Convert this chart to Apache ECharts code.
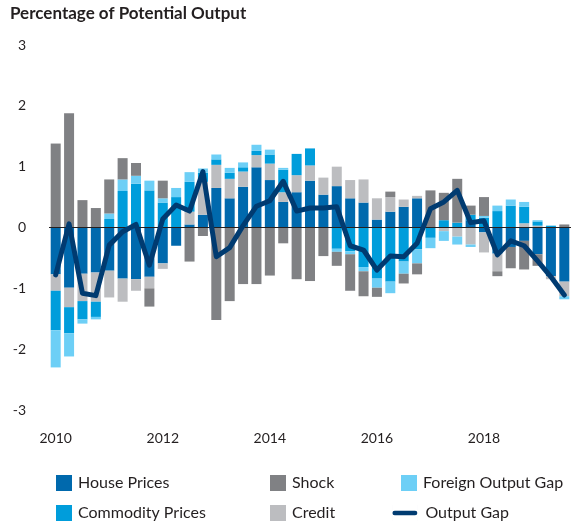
<!DOCTYPE html>
<html>
<head>
<meta charset="utf-8">
<script src="https://cdn.jsdelivr.net/npm/echarts@6/dist/echarts.min.js"></script>
<style>
  html, body { margin: 0; padding: 0; background: #fff; }
  #chart { width: 574px; height: 526px; }
</style>
</head>
<body>
<div id="chart"></div>
<script>
// quarters 2010Q1 .. 2019Q3
var quarters = [
  '2010Q1', '2010Q2', '2010Q3', '2010Q4', '2011Q1', '2011Q2', '2011Q3', '2011Q4',
  '2012Q1', '2012Q2', '2012Q3', '2012Q4', '2013Q1', '2013Q2', '2013Q3', '2013Q4',
  '2014Q1', '2014Q2', '2014Q3', '2014Q4', '2015Q1', '2015Q2', '2015Q3', '2015Q4',
  '2016Q1', '2016Q2', '2016Q3', '2016Q4', '2017Q1', '2017Q2', '2017Q3', '2017Q4',
  '2018Q1', '2018Q2', '2018Q3', '2018Q4', '2019Q1', '2019Q2', '2019Q3'
];
var yearLabels = ['2010', '2012', '2014', '2016', '2018'];

// contributions, percentage points
var housePrices = [
  -0.77, -0.99, -0.76, -0.74, -0.71, -0.84, -0.85, -0.81, -0.59, -0.30,
  0.05, 0.21, 0.65, 0.48, 0.67, 0.99, 0.78, 0.42, 0.58, 0.77,
  0.54, 0.68, 0.48, 0.41, 0.13, 0.26, 0.34, 0.48, 0, 0,
  0, 0.12, -0.08, -0.43, -0.32, -0.22, -0.44, -0.80, -0.89
];
var credit = [
  -0.27, -0.32, -0.45, -0.48, -0.44, -0.38, -0.19, -0.19, -0.09, 0,
  0.21, 0.54, 0.38, 0.32, 0.25, 0.20, 0.27, 0.16, 0.28, 0.25,
  0.28, 0.32, 0.30, 0.38, 0.35, 0.24, 0.12, 0.04, 0, -0.06,
  -0.15, -0.28, -0.33, -0.29, 0, 0.07, 0.03, -0.05, -0.24
];
var commodityPrices = [
  -0.65, -0.43, -0.30, -0.25, 0.14, 0.60, 0.72, 0.61, 0.41, 0.50,
  0.49, 0.15, 0.09, 0.10, 0.07, 0.07, 0.15, 0.37, 0.35, 0.28,
  0, -0.35, -0.39, -0.65, -0.84, -0.89, -0.56, -0.36, -0.17, 0.12,
  0.08, 0.09, 0.16, 0.27, 0.36, 0.27, 0.07, 0.03, 0
];
var foreignGap = [
  -0.61, -0.38, -0.07, -0.04, 0.09, 0.19, 0.13, 0.16, 0.07, 0.15,
  0.16, 0.07, 0.08, 0.08, 0.08, 0.10, 0.08, 0.03, 0, 0,
  0, -0.05, -0.05, -0.07, -0.15, -0.19, -0.20, -0.23, -0.17, -0.16,
  -0.13, -0.04, 0.03, 0.09, 0.10, 0.08, 0.02, 0, -0.05
];
var shock = [
  1.38, 1.88, 0.45, 0.32, 0.56, 0.35, 0.21, -0.30, 0.29, 0,
  -0.56, -0.14, -1.52, -1.21, -0.93, -0.93, -0.79, -0.26, -0.85, -0.88,
  -0.47, -0.23, -0.60, -0.41, -0.15, 0.09, -0.16, -0.18, 0.61, 0.45,
  0.72, 0.15, 0.31, -0.08, -0.35, -0.47, -0.19, 0, 0.05
];
var outputGap = [
  -0.78, 0.06, -1.08, -1.12, -0.29, -0.07, 0.05, -0.62, 0.14, 0.37,
  0.27, 0.92, -0.48, -0.33, 0.03, 0.35, 0.44, 0.76, 0.27, 0.32,
  0.32, 0.34, -0.30, -0.37, -0.70, -0.47, -0.48, -0.26, 0.31, 0.42,
  0.61, 0.08, 0.11, -0.45, -0.22, -0.30, -0.55, -0.81, -1.11
];

var FONT = 'Lato, "Open Sans", sans-serif';
var TXT = '#231f20';

var colors = {
  house: '#0069ad',
  commodity: '#009ddb',
  foreign: '#6dcff6',
  shock: '#808184',
  credit: '#bcbdc0',
  gap: '#003b71'
};

function barSeries(name, data, color) {
  return {
    name: name,
    type: 'bar',
    stack: 'total',
    barWidth: 10,
    data: data,
    itemStyle: { color: color },
    emphasis: { disabled: true }
  };
}

// one legend per entry so each can sit where the reference puts it
function legendItem(name, left, top, opts) {
  var l = {
    data: [name],
    left: left,
    top: top,
    padding: 0,
    orient: 'vertical',
    itemWidth: 16,
    itemHeight: 16,
    itemGap: 0,
    icon: 'rect',
    selectedMode: false,
    textStyle: { fontFamily: FONT, fontSize: 16, color: TXT, padding: [0, 0, 0, 1] }
  };
  return Object.assign(l, opts || {});
}

var series = [
  barSeries('House Prices', housePrices, colors.house),
  barSeries('Credit', credit, colors.credit),
  barSeries('Commodity Prices', commodityPrices, colors.commodity),
  barSeries('Foreign Output Gap', foreignGap, colors.foreign),
  barSeries('Shock', shock, colors.shock),
  {
    name: 'Output Gap',
    type: 'line',
    data: outputGap,
    symbol: 'none',
    z: 5,
    lineStyle: { color: colors.gap, width: 5, cap: 'round', join: 'round' },
    itemStyle: { color: colors.gap },
    emphasis: { disabled: true }
  }
];

// zero line drawn over the bars
series[4].markLine = {
  silent: true,
  symbol: 'none',
  label: { show: false },
  lineStyle: { color: '#231f20', width: 1, type: 'solid' },
  data: [{ yAxis: 0 }]
};

var chart = echarts.init(document.getElementById('chart'));
chart.setOption({
  animation: false,
  title: {
    text: 'Percentage of Potential Output',
    left: 10,
    top: 5,
    padding: 0,
    textStyle: { fontFamily: FONT, fontSize: 17, fontWeight: 'bold', color: TXT }
  },
  grid: { left: 49, right: 3, top: 45, bottom: 116 },
  legend: [
    legendItem('House Prices', 56, 475),
    legendItem('Commodity Prices', 56, 505),
    legendItem('Shock', 270, 475),
    legendItem('Credit', 270, 505),
    legendItem('Foreign Output Gap', 401, 475),
    legendItem('Output Gap', 392, 505, {
      itemWidth: 29,
      itemHeight: 16,
      icon: 'path://M3,6.5 h23 a2.5,2.5 0 0 1 0,5 h-23 a2.5,2.5 0 0 1 0,-5z M0,0 h0.01 v18 h-0.01z M29,0 h0.01 v18 h-0.01z'
    })
  ],
  xAxis: {
    type: 'category',
    data: quarters,
    axisLine: { show: false },
    axisTick: { show: false },
    axisLabel: {
      margin: 21,
      fontFamily: FONT,
      fontSize: 14,
      color: TXT,
      interval: 0,
      formatter: function (v) {
        var y = v.slice(0, 4);
        return v.slice(4) === 'Q1' && yearLabels.indexOf(y) >= 0 ? y : '';
      }
    },
    splitLine: { show: false }
  },
  yAxis: {
    type: 'value',
    min: -3,
    max: 3,
    interval: 1,
    axisLine: { show: false },
    axisTick: { show: false },
    splitLine: { show: false },
    axisLabel: { margin: 23, fontFamily: FONT, fontSize: 14, color: TXT }
  },
  series: series
});
</script>
</body>
</html>
